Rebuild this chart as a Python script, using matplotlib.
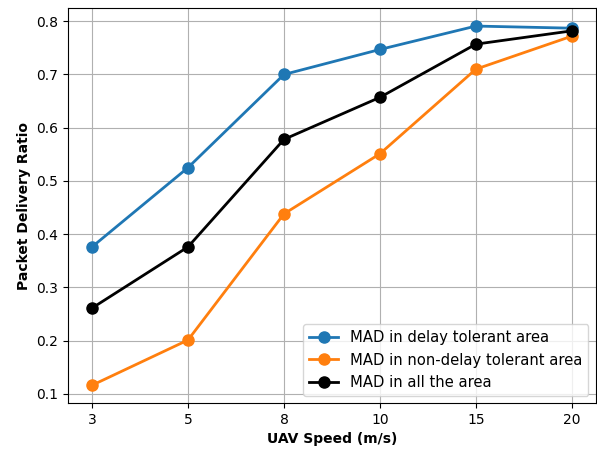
import matplotlib
matplotlib.use("Agg")
import matplotlib.pyplot as plt

speeds = ["3", "5", "8", "10", "15", "20"]
delay_tolerant = [0.376, 0.525, 0.700, 0.747, 0.791, 0.787]
non_delay_tolerant = [0.116, 0.201, 0.438, 0.551, 0.710, 0.772]
all_area = [0.261, 0.376, 0.578, 0.657, 0.757, 0.782]

fig = plt.figure(figsize=(5.97, 4.5), dpi=100)
ax = fig.add_axes([0.114, 0.104, 0.884, 0.878])
x = list(range(len(speeds)))
ax.plot(x, delay_tolerant, marker="o", markersize=8, linewidth=2, color="#1f77b4", label="MAD in delay tolerant area")
ax.plot(x, non_delay_tolerant, marker="o", markersize=8, linewidth=2, color="#ff7f0e", label="MAD in non-delay tolerant area")
ax.plot(x, all_area, marker="o", markersize=8, linewidth=2, color="black", label="MAD in all the area")
ax.set_xticks(x)
ax.set_xticklabels(speeds)
ax.set_xlabel("UAV Speed (m/s)", fontweight="bold")
ax.set_ylabel("Packet Delivery Ratio", fontweight="bold")
ax.grid(True)
ax.legend(loc="lower right", fontsize=10.6)
fig.savefig("out.png", dpi=100)
